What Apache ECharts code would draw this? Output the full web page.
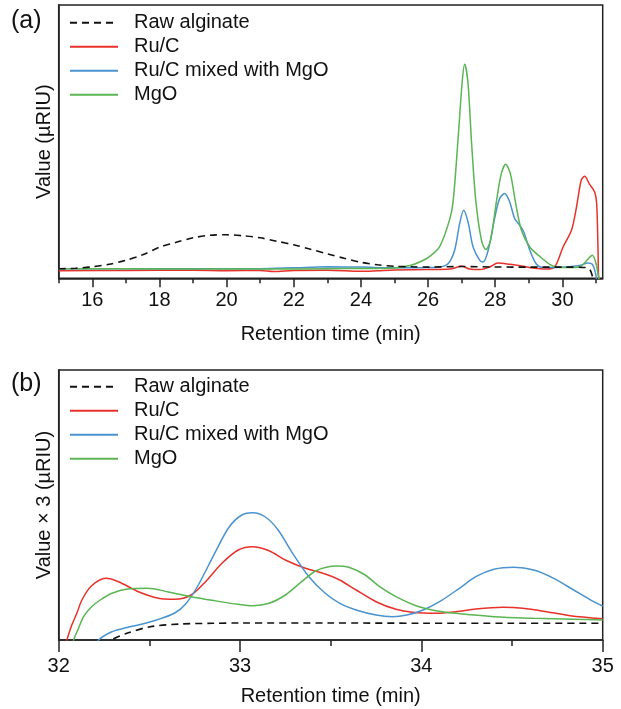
<!DOCTYPE html>
<html>
<head>
<meta charset="utf-8">
<script src="https://cdn.jsdelivr.net/npm/echarts@6/dist/echarts.min.js"></script>
<style>
html,body{margin:0;padding:0;background:#fff;}
#c{width:621px;height:709px;}
</style>
</head>
<body>
<div id="c"></div>
<script>
// ---------- Panel (a) data ----------
const rawAX = [15,15.5,16,16.5,17,17.5,18,18.5,19,19.5,20,20.5,21,21.5,22,22.5,23,23.5,24,24.5,25,25.5,26,27,28,29,30,30.71,30.83,30.91,31.0];
const rawAY = [9.5,10,11.5,14,18,23.5,31,36,40.5,43,43.5,42.5,40.5,37,33.5,29,24.5,20,16,13.5,12,11.5,11.2,11.8,11.3,11.2,11.2,10.7,8,0,-10];

const rucAX = [15,17,19,20,21,21.4,22,23,24,24.5,25,26,26.65,27.0,27.24,27.54,27.84,28.08,28.43,28.83,29.13,29.52,29.77,30.02,30.27,30.42,30.56,30.66,30.81,30.96,31.02,31.06,31.09,31.2];
const rucAY = [7.5,7.8,8,7.6,7.8,6.8,7.8,8,7,7.6,8.3,8.7,9.3,12,9.3,8.7,11.3,15.3,14,12,10.3,9.3,11.3,31.3,48,71.3,98,102,94,86.3,75,30,-5,-20];

const mixAX = [15,17,19,21,22,23,24,25,25.5,26,26.35,26.6,26.79,26.94,27.06,27.19,27.34,27.54,27.64,27.79,27.99,28.13,28.28,28.43,28.58,28.73,28.85,29.03,29.23,29.42,30.12,30.51,30.76,30.89,30.99,31.03,31.2];
const mixAY = [9.5,9.5,9.5,9.6,10.5,11.5,11.2,10.5,10.5,10.8,11.3,14.7,28,54.7,68,56.3,31.3,18,16.3,28,61.3,79.7,84.7,76.3,59.7,53,46.3,28,14,10.7,11.3,12.7,15.3,14,4.7,-5,-20];

const mgoAX = [15,17,19,21,23,24,25,25.46,25.75,26.05,26.35,26.65,26.75,26.89,27.02,27.09,27.19,27.29,27.42,27.59,27.72,27.86,28.04,28.18,28.31,28.45,28.61,28.78,29.03,29.32,29.62,29.82,30.12,30.51,30.73,30.89,30.99,31.06,31.11,31.2];
const mgoAY = [9.5,9.5,9.3,9.3,9.6,9.8,10.3,12.7,16.3,22,32,59.7,78,138,198,214,194.7,138,78,38,28.7,38,78,104.7,114,104.7,74.7,48,31.3,22,14,11.3,10.7,11.3,18,23,16.3,4.7,-5,-20];

// ---------- Panel (b) data ----------
const rawBX = [32.26,32.293,32.376,32.505,32.67,32.85,33.0,33.5,34.0,34.5,35.0];
const rawBY = [-8,0,6.7,13.3,16,16.7,17,17,16.8,16.8,16.8];

const rucBX = [32.02,32.045,32.07,32.10,32.128,32.18,32.26,32.33,32.44,32.55,32.64,32.73,32.81,32.90,32.99,33.07,33.16,33.25,33.36,33.47,33.55,33.64,33.75,33.86,33.95,34.08,34.19,34.30,34.45,34.56,34.69,34.82,35.0];
const rucBY = [-15,0,14,26.7,40,54,61.7,58.3,48.3,41.7,40.7,45,58.3,76.7,90,93.3,89.3,80,71.7,66,60,50,38.3,30.7,27.7,26.7,28.3,31,32.7,31.7,28.3,24.3,21.3];

const mixBX = [32.19,32.22,32.29,32.36,32.45,32.54,32.64,32.70,32.77,32.86,32.94,33.01,33.07,33.14,33.21,33.29,33.38,33.47,33.55,33.64,33.75,33.84,33.92,34.01,34.10,34.21,34.30,34.40,34.51,34.62,34.73,34.84,34.95,35.0];
const mixBY = [-10,0,8,11.7,15.5,20,27,36,55,86.7,113,125,127.3,123,110,86.7,63.3,46.7,36.7,30,25,23.3,25,30,38.3,51.7,63.3,70.7,72.7,70,61.7,50,38.3,34];

const mgoBX = [32.06,32.082,32.11,32.137,32.18,32.229,32.29,32.38,32.49,32.60,32.73,32.86,32.99,33.07,33.16,33.25,33.34,33.42,33.53,33.60,33.69,33.77,33.86,33.97,34.08,34.19,34.40,34.62,34.84,35.0];
const mgoBY = [-15,0,12,23.3,33,40,46.5,51,51.7,48.3,43.3,39.3,35.7,34.3,36.7,45,58.3,69.3,74,72.7,65,53.3,43.3,34.3,29.3,26.7,23.3,21.7,20.7,20];

// ---------- Ticks ----------
const majorTicksA = [16,18,20,22,24,26,28,30];
const minorTicksA = [15,17,19,21,23,25,27,29,31];
const majorTicksB = [32,33,34,35];
const minorTicksB = [32.5,33.5,34.5];

const names = ['Raw alginate','Ru/C','Ru/C mixed with MgO','MgO'];
const colors = ['#111111','#e8312a','#4a93cf','#5ab552'];

const FONT = "'Liberation Sans', Arial, Helvetica, sans-serif";
const zip = (xs, ys) => xs.map((x, i) => [x, ys[i]]);

function mkSeries(name, idx, xs, ys, xi, yi) {
  return {
    type: 'line', name: name, xAxisIndex: xi, yAxisIndex: yi,
    data: zip(xs, ys), symbol: 'none', smooth: 0.3, clip: true,
    lineStyle: { color: colors[idx], width: idx === 0 ? 1.6 : 1.5, type: idx === 0 ? [7, 5] : 'solid' },
    itemStyle: { color: colors[idx] },
    z: idx === 0 ? 5 : 3
  };
}

function mainX(grid, min, max, major, margin, tickLen) {
  return {
    type: 'value', gridIndex: grid, min: min, max: max, position: 'bottom',
    axisLine: { show: true, onZero: false, lineStyle: { color: '#222', width: 1.5 } },
    axisTick: { show: true, customValues: major, length: tickLen, lineStyle: { color: '#222', width: 1.5 } },
    axisLabel: { customValues: major, margin: margin, fontSize: 20, color: '#111', fontFamily: FONT },
    splitLine: { show: false },
    name: 'Retention time (min)', nameLocation: 'middle', nameGap: 46,
    nameTextStyle: { fontSize: 20, color: '#111', fontFamily: FONT }
  };
}
function minorX(grid, min, max, minor, tickLen) {
  return {
    type: 'value', gridIndex: grid, min: min, max: max, position: 'bottom',
    axisLine: { show: false },
    axisTick: { show: true, customValues: minor, length: tickLen, lineStyle: { color: '#222', width: 1.5 } },
    axisLabel: { show: false }, splitLine: { show: false }
  };
}
function mainY(grid, min, max, name) {
  return {
    type: 'value', gridIndex: grid, min: min, max: max,
    axisLine: { show: true, lineStyle: { color: '#222', width: 1.5 } },
    axisTick: { show: false }, axisLabel: { show: false }, splitLine: { show: false },
    name: name, nameLocation: 'middle', nameGap: 4,
    nameTextStyle: { fontSize: 20, color: '#111', fontFamily: FONT }
  };
}
function mkLegend(top) {
  return {
    data: names, orient: 'vertical', left: 69, top: top, padding: 0,
    itemWidth: 48, itemHeight: 14, itemGap: 4, selectedMode: false,
    itemStyle: { opacity: 0, borderWidth: 0 },
    textStyle: { fontSize: 20, lineHeight: 20, color: '#111', fontFamily: FONT, padding: [0, 0, 0, 11] }
  };
}

const option = {
  animation: false,
  backgroundColor: '#fff',
  grid: [
    { left: 58.7, top: 5, width: 544, height: 273.3, show: true, borderColor: '#222', borderWidth: 1.5, containLabel: false },
    { left: 58.7, top: 370, width: 544, height: 270, show: true, borderColor: '#222', borderWidth: 1.5, containLabel: false }
  ],
  xAxis: [
    mainX(0, 15, 31.2, majorTicksA, 12, 9),
    minorX(0, 15, 31.2, minorTicksA, 5),
    mainX(1, 32, 35, majorTicksB, 16, 12),
    minorX(1, 32, 35, minorTicksB, 6)
  ],
  yAxis: [
    mainY(0, 0, 273.3, 'Value (µRIU)'),
    mainY(1, 0, 270, 'Value × 3 (µRIU)')
  ],
  legend: [mkLegend(12.7), mkLegend(376.7)],
  graphic: [
    { type: 'text', left: 11, top: 9, style: { text: '(a)', fontSize: 25, fill: '#111', fontFamily: FONT } },
    { type: 'text', left: 11, top: 372, style: { text: '(b)', fontSize: 25, fill: '#111', fontFamily: FONT } }
  ],
  series: [
    mkSeries(names[0], 0, rawAX, rawAY, 0, 0),
    mkSeries(names[1], 1, rucAX, rucAY, 0, 0),
    mkSeries(names[2], 2, mixAX, mixAY, 0, 0),
    mkSeries(names[3], 3, mgoAX, mgoAY, 0, 0),
    mkSeries(names[0], 0, rawBX, rawBY, 2, 1),
    mkSeries(names[1], 1, rucBX, rucBY, 2, 1),
    mkSeries(names[2], 2, mixBX, mixBY, 2, 1),
    mkSeries(names[3], 3, mgoBX, mgoBY, 2, 1)
  ]
};

const chart = echarts.init(document.getElementById('c'), null, { renderer: 'canvas' });
chart.setOption(option);
</script>
</body>
</html>
